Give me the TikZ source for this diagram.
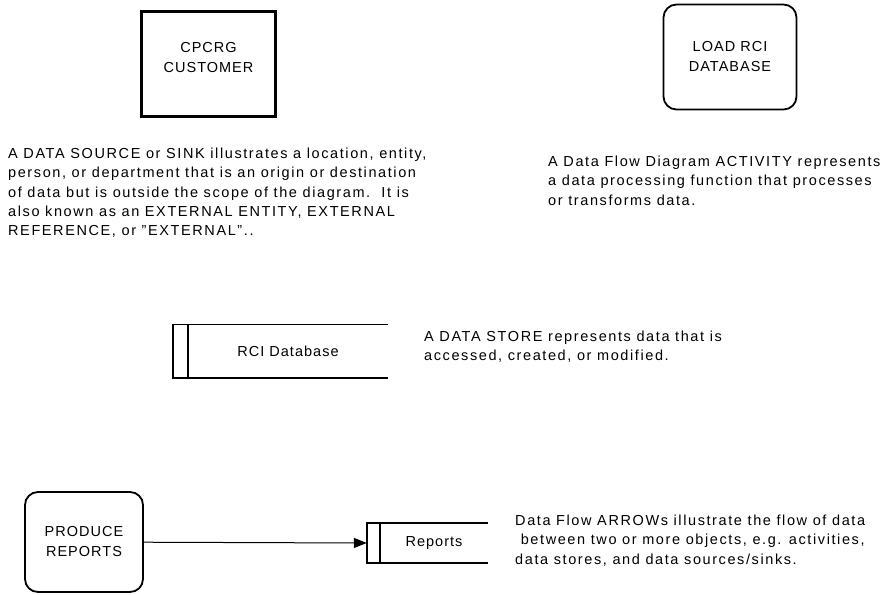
\documentclass[tikz,border=0pt]{standalone}
\usepackage{fontspec}
\setmainfont{Liberation Sans}
\usetikzlibrary{positioning,arrows.meta}

\begin{document}
\begin{tikzpicture}[x=1pt,y=-1pt]
	\tikzset{entity/.style={draw,line width=3pt,minimum width=134pt,minimum height=104pt,align=center}}
	\tikzset{activity/.style={draw,line width=1.8pt,rounded corners=13pt,align=center}}
	\tikzset{store/.style={minimum height=53pt,inner sep=0pt}}
	\tikzset{note/.style={anchor=north west,align=left,inner sep=0pt,font=\fontsize{14.5}{19.2}\selectfont\addfontfeatures{LetterSpace=11}}}
	\tikzset{every node/.append style={font=\fontsize{14.5}{20}\selectfont\addfontfeatures{LetterSpace=7}}}
	\useasboundingbox (0,0) rectangle (896,594);
	% source / sink
	\node[entity,text depth=14pt] (customer) at (208.5,64) {CPCRG\\CUSTOMER};
	\node[note] (sinknote) at (8,148) {A DATA SOURCE or SINK illustrates a location, entity,\\person, or department that is an origin or destination\\of data but is outside the scope of the diagram.\ \ It is\\also known as an EXTERNAL ENTITY, EXTERNAL\\REFERENCE, or "EXTERNAL"..};
	% activity
	\node[activity,minimum width=133pt,minimum height=105pt] (load) at (730,57) {LOAD RCI\\DATABASE};
	\node[note] (actnote) at (548,156) {A Data Flow Diagram ACTIVITY represents\\a data processing function that processes\\or transforms data.};
	% data store
	\node[store,minimum width=200pt] (rci) at (288,351) {RCI Database};
	\draw[line width=1.6pt] (rci.north east) -- ([xshift=-15pt]rci.north west) -- ([xshift=-15pt]rci.south west) -- (rci.south east);
	\draw[line width=1.6pt] (rci.north west) -- (rci.south west);
	\node[note] (storenote) at (424,331) {A DATA STORE represents data that is\\accessed, created, or modified.};
	% data flow
	\node[activity,minimum width=118pt,minimum height=100pt] (produce) at (84,542) {PRODUCE\\REPORTS};
	\node[store,minimum width=108pt,minimum height=40pt] (reports) at (434,543) {Reports};
	\draw[line width=1.6pt] (reports.north east) -- ([xshift=-13pt]reports.north west) -- ([xshift=-13pt]reports.south west) -- (reports.south east);
	\draw[line width=1.6pt] (reports.north west) -- (reports.south west);
	\draw[line width=1pt,-{Triangle[length=13pt,width=10pt]}] (produce) -- ([xshift=-13pt]reports.west);
	\node[note] (flownote) at (515,515) {Data Flow ARROWs illustrate the flow of data\\\ between two or more objects, e.g. activities,\\data stores, and data sources/sinks.};
\end{tikzpicture}
\end{document}
